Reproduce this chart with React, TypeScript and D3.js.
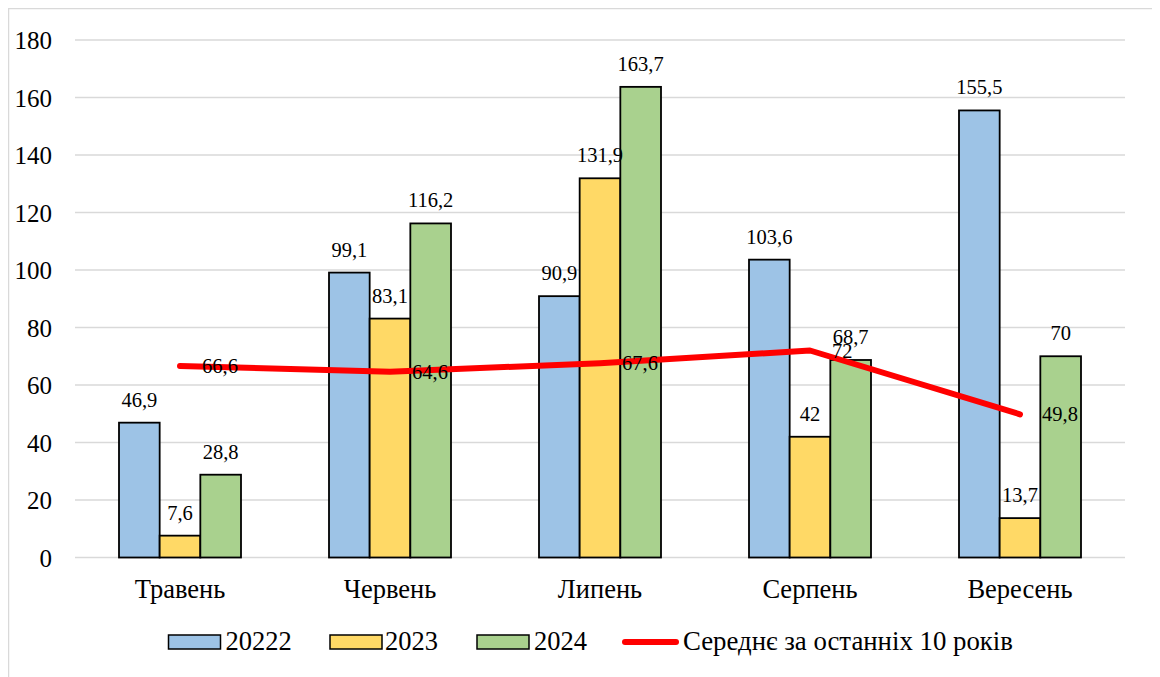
import React from "react";
import * as d3 from "d3";

const categories = ["Травень", "Червень", "Липень", "Серпень", "Вересень"];
const seriesNames = ["20222", "2023", "2024"];
const values2022 = [46.9, 99.1, 90.9, 103.6, 155.5];
const values2023 = [7.6, 83.1, 131.9, 42, 13.7];
const values2024 = [28.8, 116.2, 163.7, 68.7, 70];
const avgName = "Середнє за останніх 10 років";
const avgValues = [66.6, 64.6, 67.6, 72, 49.8];
const yTicks = [0, 20, 40, 60, 80, 100, 120, 140, 160, 180];

const seriesColors = ["#9DC3E6", "#FFD966", "#A9D18E"];
const FONT = "Liberation Serif, Tinos, serif";

const fmt = (v: number) => String(v).replace(".", ",");

export default function App() {
  const W = 1150;
  const H = 700;
  const x = d3.scaleBand<string>().domain(categories).range([67, 1117]).padding(0);
  const groupW = 122;
  const inner = d3
    .scaleBand<string>()
    .domain(seriesNames)
    .range([-groupW / 2, groupW / 2])
    .padding(0);
  const y = d3.scaleLinear().domain([0, 180]).range([549.5, 32]);
  const allSeries = [values2022, values2023, values2024];
  const cx = (c: string) => (x(c) as number) + x.bandwidth() / 2;

  const line = d3
    .line<number>()
    .x((_, i) => cx(categories[i]))
    .y((d) => y(d));

  const legendItems = [
    { x: 160.5, tx: 217.5 },
    { x: 322, tx: 377 },
    { x: 469, tx: 526 },
  ];
  const ts = { fontFamily: FONT };

  return (
    <svg width={W} height={H} style={{ display: "block", overflow: "visible", fontFamily: FONT }}>
      <rect x={0.5} y={0.5} width={W - 1} height={H} fill="#fff" stroke="#d9d9d9" strokeWidth={1.5} />
      {yTicks.map((t) => (
        <g key={t}>
          <line x1={67} x2={1117} y1={y(t)} y2={y(t)} stroke="#d9d9d9" strokeWidth={1.5} />
          <text x={44} y={y(t) + 9} textAnchor="end" fontSize={25} fill="#000" style={ts}>
            {t}
          </text>
        </g>
      ))}
      {allSeries.map((vals, si) =>
        vals.map((v, ci) => {
          const bx = cx(categories[ci]) + (inner(seriesNames[si]) as number);
          return (
            <rect
              key={`${si}-${ci}`}
              x={bx}
              y={y(v)}
              width={inner.bandwidth()}
              height={y(0) - y(v)}
              fill={seriesColors[si]}
              stroke="#000"
              strokeWidth={1.8}
            />
          );
        })
      )}
      <path d={line(avgValues) as string} fill="none" stroke="#FF0000" strokeWidth={6} strokeLinecap="round" strokeLinejoin="round" />
      {allSeries.map((vals, si) =>
        vals.map((v, ci) => {
          const bx = cx(categories[ci]) + (inner(seriesNames[si]) as number) + inner.bandwidth() / 2;
          return (
            <text key={`l${si}-${ci}`} x={bx} y={y(v) - 16} textAnchor="middle" fontSize={20.5} fill="#000" style={ts}>
              {fmt(v)}
            </text>
          );
        })
      )}
      {avgValues.map((v, i) => (
        <text key={`a${i}`} x={cx(categories[i]) + 22} y={y(v) + 7} fontSize={20.5} fill="#000" style={ts}>
          {fmt(v)}
        </text>
      ))}
      {categories.map((c) => (
        <text key={c} x={cx(c)} y={590} textAnchor="middle" fontSize={26.5} fill="#000" style={ts}>
          {c}
        </text>
      ))}
      {legendItems.map((it, i) => (
        <g key={seriesNames[i]}>
          <rect x={it.x} y={627} width={52} height={14} fill={seriesColors[i]} stroke="#000" strokeWidth={1.5} />
          <text x={it.tx} y={642} fontSize={26.5} fill="#000" style={ts}>
            {seriesNames[i]}
          </text>
        </g>
      ))}
      <line x1={617} x2={668} y1={634} y2={634} stroke="#FF0000" strokeWidth={6} strokeLinecap="round" />
      <text x={675} y={642} fontSize={26.8} fill="#000" style={ts}>
        {avgName}
      </text>
    </svg>
  );
}
